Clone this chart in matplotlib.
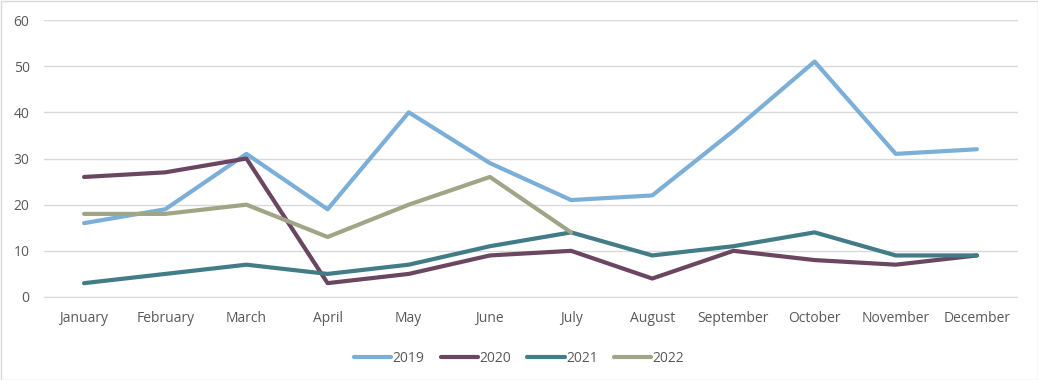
import numpy as np
import matplotlib.pyplot as plt

months = ['January', 'February', 'March', 'April', 'May', 'June', 'July',
          'August', 'September', 'October', 'November', 'December']
s2019 = [16, 19, 31, 19, 40, 29, 21, 22, 36, 51, 31, 32]
s2020 = [26, 27, 30, 3, 5, 9, 10, 4, 10, 8, 7, 9]
s2021 = [3, 5, 7, 5, 7, 11, 14, 9, 11, 14, 9, 9]
s2022 = [18, 18, 20, 13, 20, 26, 14]

plt.rcParams['font.family'] = ['Open Sans', 'DejaVu Sans']

fig = plt.figure(figsize=(10.38, 3.8), dpi=100)
ax = fig.add_axes([43.5 / 1038, 1 - 297 / 380, 974 / 1038, 277 / 380])

x = np.arange(len(months)) + 0.5
ax.plot(x, s2019, color='#7BAFD8', lw=3, label='2019', solid_capstyle='round')
ax.plot(x, s2020, color='#6B4661', lw=3, label='2020', solid_capstyle='round')
ax.plot(x, s2021, color='#417C87', lw=3, label='2021', solid_capstyle='round')
ax.plot(x[:len(s2022)], s2022, color='#A0A585', lw=3, label='2022', solid_capstyle='round')

ax.set_xlim(0, 12)
ax.set_ylim(0, 60)
ax.set_xticks(x)
ax.set_xticklabels(months)
ax.set_yticks(range(0, 61, 10))
ax.grid(axis='y', color='#D9D9D9', lw=1)
ax.set_axisbelow(True)
for s in ['top', 'right', 'left']:
    ax.spines[s].set_visible(False)
ax.spines['bottom'].set_color('#D9D9D9')
ax.tick_params(length=0, colors='#595959', labelsize=10)
ax.tick_params(axis='x', pad=10)
ax.tick_params(axis='y', pad=10)

# legend centred on the figure, like the original
fig.legend(*ax.get_legend_handles_labels(), loc='upper center',
           bbox_to_anchor=(0.5, 1 - 338 / 380), ncol=4, frameon=False,
           fontsize=10, labelcolor='#595959', handlelength=2.7, handletextpad=0.1,
           columnspacing=1.15)

fig.patches.append(plt.Rectangle((0.5 / 1038, 0.5 / 380), 1 - 1 / 1038, 1 - 1 / 380,
                                 transform=fig.transFigure, fill=False,
                                 edgecolor='#D9D9D9', lw=1))

fig.savefig('out.png', dpi=100)
